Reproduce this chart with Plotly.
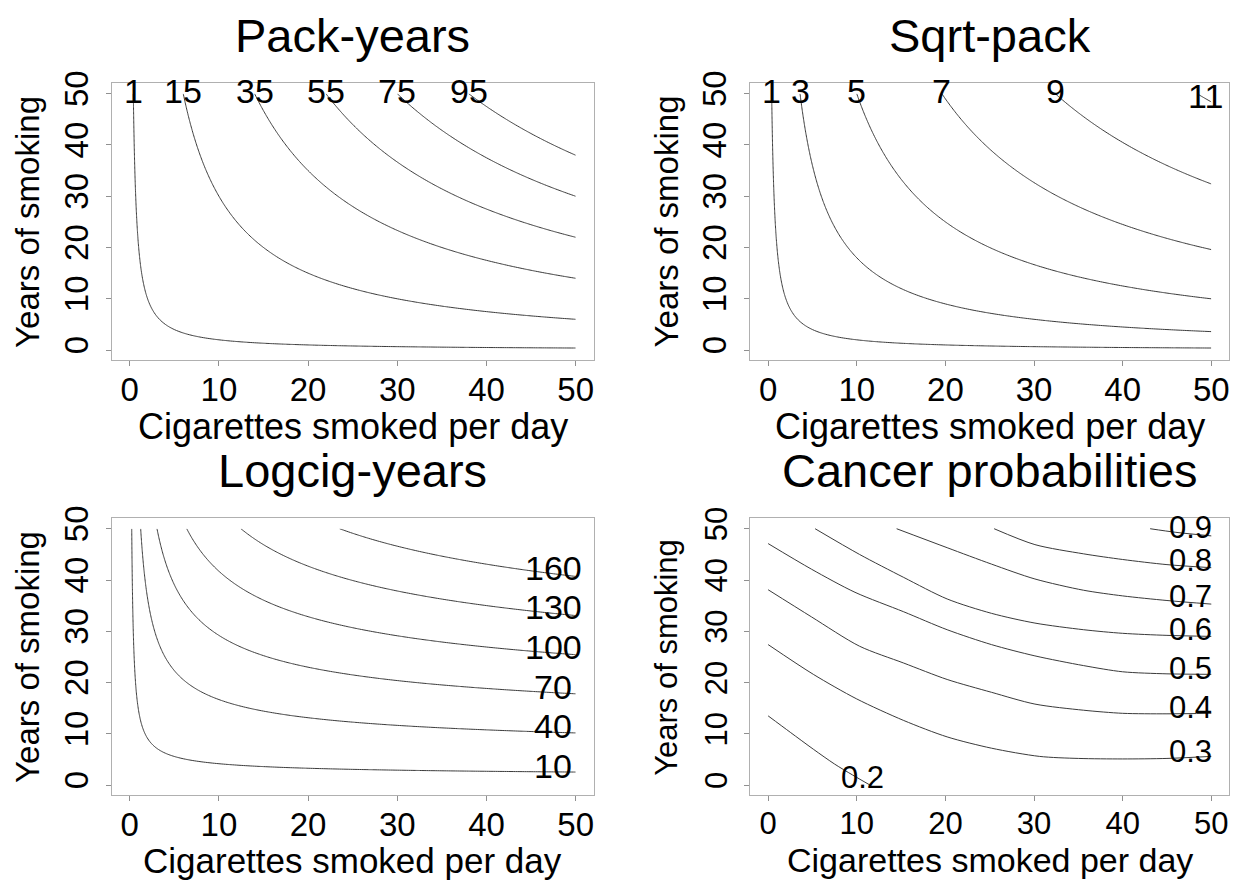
import numpy as np
import plotly.graph_objects as go

W, H = 1244, 886
FONT = "Liberation Sans, Arial, Helvetica, sans-serif"
INK = "#3a3a3a"

# ---- axes -------------------------------------------------------------
tick_vals = [0, 10, 20, 30, 40, 50]
tick_text = ["0", "10", "20", "30", "40", "50"]
x_title = "Cigarettes smoked per day"
y_title = "Years of smoking"
panel_titles = ["Pack-years", "Sqrt-pack", "Logcig-years", "Cancer probabilities"]

# ---- exposure grid: cigarettes per day x years of smoking ---------------
cigs = np.unique(np.concatenate([np.geomspace(0.005, 4, 140), np.linspace(4, 50, 185)]))
cigs = np.concatenate([[0.0], cigs])
years = np.unique(np.concatenate([np.geomspace(0.005, 4, 140), np.linspace(4, 50, 185)]))
years = np.concatenate([[0.0], years])
CG, YR = np.meshgrid(cigs, years)

# exposure metrics
pack_years = np.round(CG * YR / 20.0, 5)
sqrt_pack = np.round(np.sqrt(CG * YR / 20.0), 5)
logcig_years = np.round(YR * np.log(CG + 1.0), 5)

# contour levels
pack_levels = [1, 15, 35, 55, 75, 95]
sqrt_levels = [1, 3, 5, 7, 9, 11]
logcig_levels = [10, 40, 70, 100, 130, 160]

# fitted cancer probability contours: (cigarettes/day, years) along each level
cancer_levels = [0.2, 0.3, 0.4, 0.5, 0.6, 0.7, 0.8, 0.9]
cancer_x = {
    0.2: [0, 2.5, 5.1, 7.5, 9.5, 11.5],
    0.3: [0, 5.1, 10.0, 15.3, 20.2, 25.2, 30.6, 35.0, 40.0, 45.0, 50.0],
    0.4: [0, 4.9, 10.3, 15.3, 20.2, 25.2, 30.1, 35.6, 40.0, 45.0, 50.0],
    0.5: [0, 4.9, 9.8, 15.3, 20.2, 25.2, 30.1, 35.6, 40.0, 45.0, 50.0],
    0.6: [5.3, 10.3, 15.3, 20.2, 25.2, 30.1, 35.6, 40.0, 45.0, 50.0],
    0.7: [14.5, 20.2, 25.2, 30.1, 35.6, 40.0, 45.0, 50.0],
    0.8: [25.5, 30.1, 35.6, 40.0, 45.0, 50.0],
    0.9: [43.1, 46.0, 50.0],
}
cancer_y = {
    0.2: [13.5, 10.3, 7.0, 4.1, 2.0, 0.0],
    0.3: [27.4, 21.6, 16.8, 12.6, 9.4, 7.2, 5.6, 5.2, 5.1, 5.2, 5.6],
    0.4: [38.1, 32.8, 27.1, 23.8, 20.6, 18.1, 15.8, 14.6, 14.0, 13.9, 14.0],
    0.5: [47.1, 42.1, 37.6, 33.8, 30.3, 27.4, 25.2, 23.3, 22.1, 21.7, 21.6],
    0.6: [50.0, 45.0, 40.5, 36.3, 33.5, 31.6, 30.3, 29.6, 29.2, 29.0],
    0.7: [50.0, 46.3, 43.1, 40.2, 38.0, 36.9, 36.0, 35.3],
    0.8: [50.0, 46.9, 45.1, 44.0, 43.0, 42.4],
    0.9: [50.0, 49.3, 48.6],
}

# ---- page geometry (pixels) ---------------------------------------------
cols = [(112, 594), (751, 1230)]
rows = [(71.5, 352.5), (513, 794)]


def px(x):
    return x / W


def py(y):
    return 1 - y / H


fig = go.Figure()

line_scale = [[0, INK], [1, INK]]


def add_contour(z, start, end, size, idx):
    fig.add_trace(go.Contour(
        x=cigs, y=years, z=z, xaxis=f"x{idx}", yaxis=f"y{idx}",
        contours=dict(coloring="lines", start=start, end=end, size=size, showlabels=False),
        colorscale=line_scale, showscale=False, line=dict(width=1, smoothing=1),
        hoverinfo="skip",
    ))


# Pack-years: level 1, then 15..95 every 20
add_contour(pack_years, pack_levels[0], pack_levels[0] + 1e-6, 1, "")
add_contour(pack_years, pack_levels[1], pack_levels[-1], pack_levels[2] - pack_levels[1], "")
# Sqrt-pack
add_contour(sqrt_pack, sqrt_levels[0], sqrt_levels[-1], sqrt_levels[1] - sqrt_levels[0], "2")
# Logcig-years
add_contour(logcig_years, logcig_levels[0], logcig_levels[-1], logcig_levels[1] - logcig_levels[0], "3")
# Cancer probabilities
for lev in cancer_levels:
    fig.add_trace(go.Scatter(
        x=cancer_x[lev], y=cancer_y[lev], mode="lines", xaxis="x4", yaxis="y4",
        line=dict(color=INK, width=1, shape="spline", smoothing=0.8),
        hoverinfo="skip", showlegend=False,
    ))

annotations = []


def data_label(text, x, y, idx, size=34):
    annotations.append(dict(
        text=text, x=x, y=y, xref=f"x{idx}", yref=f"y{idx}", showarrow=False,
        font=dict(family=FONT, size=size, color="black"),
        xanchor="center", yanchor="middle", yshift=round(0.18 * size),
    ))


# labels at the top edge for the two pack metrics
for lev in pack_levels:
    data_label(str(lev), lev * 20 / 50, 49.3, "")
for lev in sqrt_levels:
    xe = lev ** 2 * 20 / 50
    if xe > 48:
        data_label(str(lev), 49.3, 48.4, "2")
    else:
        data_label(str(lev), xe, 49.3, "2")
# labels at the right edge for log-cig years
for lev in logcig_levels:
    data_label(str(lev), 47.5, lev / np.log(48.5), "3")
# labels for cancer probability curves
for lev in cancer_levels:
    xs, ys = np.array(cancer_x[lev]), np.array(cancer_y[lev])
    if xs[-1] >= 50:
        data_label(f"{lev:.1f}", 47.6, float(np.interp(47.5, xs, ys)), "4", size=31)
    else:
        data_label(f"{lev:.1f}", xs[-1] - 0.8, 0.4, "4", size=31)

k = 0
for r, (top, bot) in enumerate(rows):
    for c, (left, right) in enumerate(cols):
        k += 1
        sfx = "" if k == 1 else str(k)
        small = (k == 4)
        tick_size = 31 if small else 33
        tfont = dict(family=FONT, size=tick_size, color="black")
        common = dict(
            range=[-2, 52], tickvals=tick_vals, ticktext=tick_text,
            showgrid=False, zeroline=False, showline=True, mirror=True,
            linecolor="#b0b0b0", linewidth=1, ticks="outside", ticklen=5,
            tickcolor="#909090", tickfont=tfont,
        )
        xa = dict(common, domain=[px(left), px(right)], anchor=f"y{sfx}", ticklabelstandoff=-5)
        ya = dict(common, domain=[py(bot), py(top)], anchor=f"x{sfx}", tickangle=-90,
                  ticklabelstandoff=5)
        fig.update_layout(**{f"xaxis{sfx}": xa, f"yaxis{sfx}": ya})

        cx = (left + right) / 2
        title_size = 47
        annotations.append(dict(
            text=panel_titles[k - 1], x=px(cx),
            y=py(top - 40.5 - 0.18 * title_size), xref="paper", yref="paper",
            showarrow=False, xanchor="center", yanchor="middle",
            font=dict(family=FONT, size=title_size, color="black"),
        ))
        xt_size = 34 if small else (35 if r == 1 else 36)
        annotations.append(dict(
            text=x_title, x=px(cx), y=py(bot + (72 if r == 1 else 74) - 0.18 * xt_size),
            xref="paper", yref="paper",
            showarrow=False, xanchor="center", yanchor="middle",
            font=dict(family=FONT, size=xt_size, color="black"),
        ))
        yt_size = 31 if small else 33
        annotations.append(dict(
            text=y_title, x=px(left - 78 - 0.18 * yt_size), y=py((top + bot) / 2),
            xref="paper", yref="paper",
            showarrow=False, xanchor="center", yanchor="middle", textangle=-90,
            font=dict(family=FONT, size=yt_size, color="black"),
        ))

fig.update_layout(
    width=W, height=H, autosize=False,
    margin=dict(l=0, r=0, t=0, b=0),
    paper_bgcolor="white", plot_bgcolor="white",
    showlegend=False, annotations=annotations,
)

fig.write_html("out.html")
